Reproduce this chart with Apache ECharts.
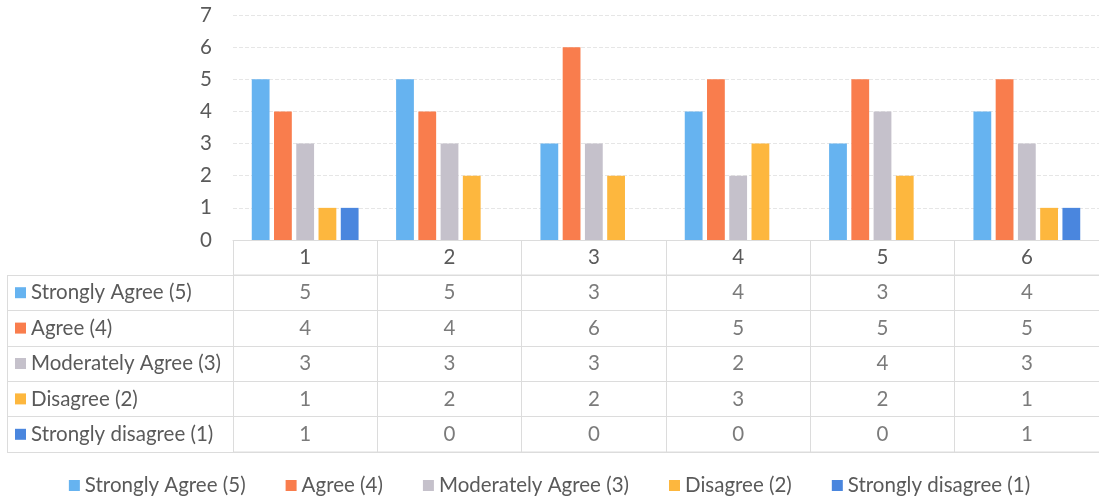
<!DOCTYPE html>
<html>
<head>
<meta charset="utf-8">
<script src="https://cdn.jsdelivr.net/npm/echarts@6/dist/echarts.min.js"></script>
<style>html,body{margin:0;padding:0;background:#fff;}#c{width:1099px;height:500px;}</style>
</head>
<body>
<div id="c"></div>
<script>
const categories = ['1', '2', '3', '4', '5', '6'];
const seriesNames = ['Strongly Agree (5)', 'Agree (4)', 'Moderately Agree (3)', 'Disagree (2)', 'Strongly disagree (1)'];
const stronglyAgree = [5, 5, 3, 4, 3, 4];
const agree = [4, 4, 6, 5, 5, 5];
const moderatelyAgree = [3, 3, 3, 2, 4, 3];
const disagree = [1, 2, 2, 3, 2, 1];
const stronglyDisagree = [1, 0, 0, 0, 0, 1];
const yTicks = [0, 1, 2, 3, 4, 5, 6, 7];

const values = [stronglyAgree, agree, moderatelyAgree, disagree, stronglyDisagree];
const colors = ['#66b3f0', '#f97d4d', '#c5c1cb', '#fdb73e', '#4a86de'];
const textColor = '#5a5a5a';
const lineColor = '#dcdcdc';
const font = 'Lato';
const fs = 20.5;

const rich = {};
colors.forEach((c, i) => {
  rich['s' + i] = { width: 11, height: 11, backgroundColor: c };
  rich['t' + i] = { fontSize: fs, fontFamily: font, color: textColor, padding: [0, 0, 0, 5] };
});

const barSeries = seriesNames.map((n, i) => ({
  name: n,
  type: 'bar',
  xAxisIndex: 0,
  yAxisIndex: 0,
  data: values[i],
  itemStyle: { color: colors[i] },
  barGap: '25%',
  barCategoryGap: '26%'
}));

const tableSeries = seriesNames.map((n, i) => ({
  name: 'table' + i,
  type: 'scatter',
  xAxisIndex: 1,
  yAxisIndex: 1,
  symbol: 'rect',
  symbolSize: 1,
  itemStyle: { color: 'rgba(0,0,0,0)' },
  silent: true,
  data: values[i].map((v, j) => [j, i, v]),
  label: {
    show: true,
    position: 'inside',
    formatter: p => String(p.value[2]),
    fontSize: fs,
    fontFamily: font,
    color: textColor
  }
}));

const chart = echarts.init(document.getElementById('c'));
chart.setOption({
  animation: false,
  backgroundColor: '#fff',
  grid: [
    { left: 233, top: 15, width: 876, height: 225 },
    { left: 233, top: 275, width: 876, height: 177, show: false }
  ],
  xAxis: [
    {
      type: 'category', gridIndex: 0, data: categories,
      axisLine: { lineStyle: { color: lineColor } },
      axisTick: { show: true, length: 212, lineStyle: { color: lineColor } },
      axisLabel: { fontSize: fs, fontFamily: font, color: textColor, margin: 7 }
    },
    {
      type: 'category', gridIndex: 1, data: categories,
      axisLine: { show: false }, axisTick: { show: false }, axisLabel: { show: false },
      splitLine: { show: false }
    }
  ],
  yAxis: [
    {
      type: 'value', gridIndex: 0, min: 0, max: 7, interval: 1,
      axisLine: { show: false }, axisTick: { show: false },
      axisLabel: { fontSize: fs, fontFamily: font, color: textColor, margin: 21,
        formatter: v => yTicks.includes(v) ? String(v) : '' },
      splitLine: { lineStyle: { color: '#e6e6e6', type: 'dashed' } }
    },
    {
      type: 'category', gridIndex: 1, inverse: true,
      data: seriesNames,
      axisLine: { show: false },
      axisTick: { show: true, length: 226, lineStyle: { color: lineColor } },
      splitLine: { show: true, lineStyle: { color: lineColor } },
      axisLabel: {
        align: 'left', margin: 218,
        formatter: (v, idx) => '{s' + idx + '|}{t' + idx + '|' + v + '}',
        rich: rich
      }
    }
  ],
  legend: {
    data: seriesNames,
    bottom: -1,
    left: 'center',
    icon: 'rect',
    itemWidth: 11,
    itemHeight: 11,
    itemGap: 40,
    textStyle: { fontSize: fs, fontFamily: font, color: textColor }
  },
  graphic: [
    { type: 'line', shape: { x1: 7.5, y1: 275, x2: 7.5, y2: 452 }, style: { stroke: lineColor, lineWidth: 1 } },
    { type: 'line', shape: { x1: 233, y1: 452, x2: 1099, y2: 452 }, style: { stroke: lineColor, lineWidth: 1 } },
    { type: 'line', shape: { x1: 233, y1: 275, x2: 1099, y2: 275 }, style: { stroke: lineColor, lineWidth: 1 } }
  ],
  series: barSeries.concat(tableSeries)
});
</script>
</body>
</html>
